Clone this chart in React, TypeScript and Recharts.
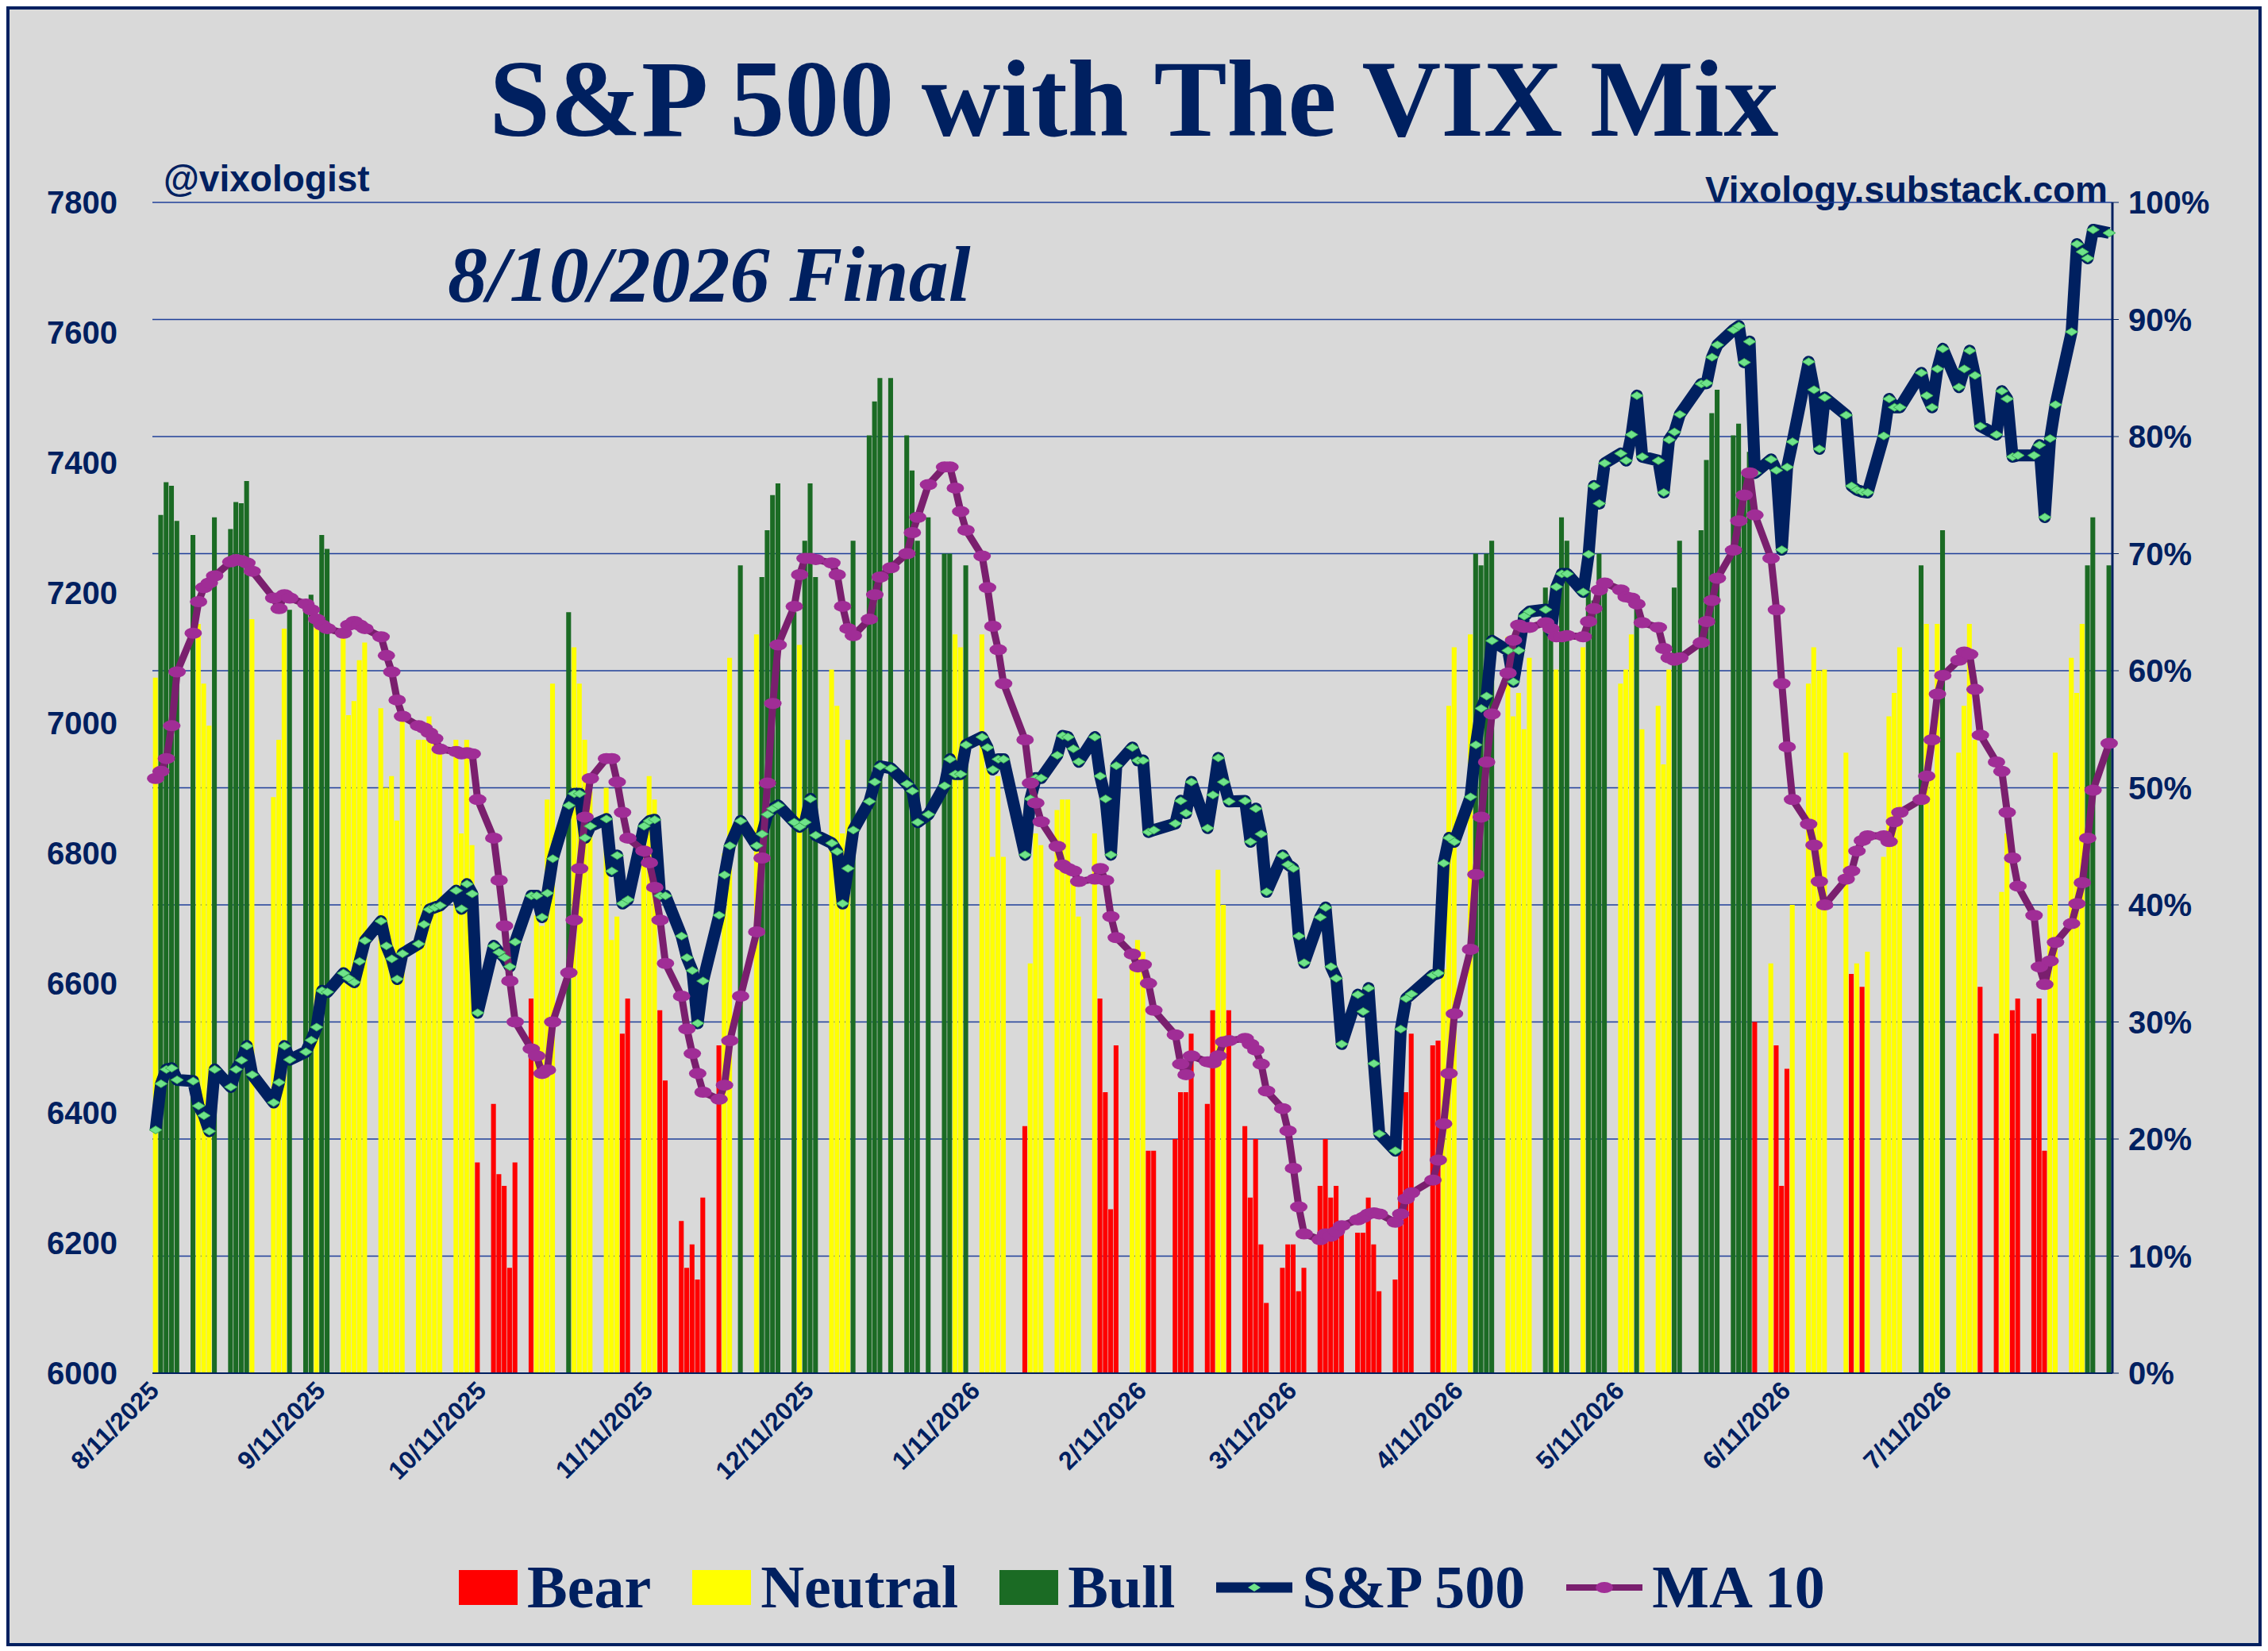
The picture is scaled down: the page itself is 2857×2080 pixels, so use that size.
import React from "react";
import {
  ComposedChart,
  Bar,
  Line,
  XAxis,
  YAxis,
  CartesianGrid,
} from "recharts";

// VIX Mix daily reading (%), one per trading day from 8/11/2025 to 8/10/2026
const vixMix = [
  59.4, 73.3, 76.1, 75.8, 72.8, 71.6, 64, 58.9, 55.3, 73.1, 72.1, 74.4, 74.3, 76.2, 64.4,
  49.2, 54.1, 63.6, 65.2, 65.7, 66.5, 63.9, 71.6, 70.4, 62.8, 56.2, 57.4, 60.9, 62.4, 56.8, 50, 51, 47.2, 56.3, 54.1, 54.1,
  56.1, 55, 53.3, 54.1, 46.1, 54.1, 45.1, 18, 23, 17, 16, 9, 18, 32, 39.1, 38.2, 49, 58.9, 65, 62, 58.9, 54.1, 49.7,
  50, 37, 39, 29, 32, 46.1, 51, 49, 31, 25, 13, 9, 11, 8, 15, 28, 44.4, 61.1, 69,
  63.1, 68, 72, 75, 76, 65, 62.2, 71.1, 76, 68, 60.1, 57, 46.1, 54.1, 71.1, 80.1, 83, 85, 85, 80.1, 77.1, 71.1,
  73.1, 70, 70, 63.1, 62, 69, 63.1, 51.7, 44.1, 51, 44.1, 21.1, 35, 46.1, 45.1, 48.1, 49, 49, 42.1, 39,
  46.1, 32, 24, 14, 28, 35, 37, 36, 19, 19, 20, 24, 24, 29, 23, 31, 43, 40, 31,
  21.1, 15, 20, 11, 6, 9, 11, 11, 7, 9, 16, 20, 15, 16, 12.1, 12, 12, 15, 11, 7, 8, 19,
  24, 29, 28, 28.4, 34.5, 57, 62, 63.1, 70, 69, 70, 71.1, 62.9, 56.1, 58.1, 55, 61.1, 67.1, 66, 60.1, 73.1,
  71.1, 62, 66.9, 66, 70, 67.5, 58.9, 60.1, 63.1, 66.2, 55, 57, 52, 60.1, 67.1, 71.1, 72, 78, 82, 84,
  80.1, 81.1, 76.8, 78.7, 30, 35, 28, 16, 26, 40, 58.9, 62, 60, 60.1, 53, 34.1, 35, 33, 36, 44.1, 56.1,
  58.1, 62, 69, 64, 51, 64, 72, 53, 57, 64, 54.1, 33, 29, 41.1, 46.1, 31, 32, 29, 32, 19, 40, 53,
  61.1, 58.1, 64, 69, 73.1, 69,
];

// regime per day: B = Bear, N = Neutral, U = Bull
const regime = [
  "NUUUUUNNNUUUUUN",
  "NNNUUUNUUNNNNNNNNNNNN",
  "NNNNNNNBBBBBBBNNNNUNNNN",
  "NNNBBNNNBBBBBBBBNNU",
  "NUUUUUNUUUNNNNUUUUUUUU",
  "UUUNNUNNNNNBNNNNNNNN",
  "NBBBBNNNBBBBBBBBNNB",
  "BBBBBBBBBBBBBBBBBBBBBB",
  "BBBBNNNNUUUUNNNNNUUNU",
  "UNUUUUNNNUNNNNUUUUUU",
  "UUUUBNBBBNNNNNNBNBNNN",
  "NNUNNNUNNNNBBNNBBBBBNN",
  "NNNUUU",
].join("");

const spx = [
  6374, 6445, 6467, 6469, 6451, 6449, 6411, 6396, 6372, 6467, 6440, 6467, 6481, 6503, 6459,
  6416, 6447, 6503, 6482, 6494, 6512, 6532, 6588, 6586, 6615, 6607, 6601, 6633, 6665, 6695, 6657, 6637, 6606, 6645, 6660, 6690,
  6713, 6716, 6719, 6742, 6714, 6752, 6737, 6554, 6657, 6647, 6639, 6625, 6663, 6734, 6734, 6701, 6738, 6791, 6873, 6891, 6891, 6823, 6841,
  6852, 6772, 6796, 6722, 6728, 6841, 6849, 6851, 6734, 6734, 6672, 6639, 6619, 6538, 6603, 6704, 6766, 6811, 6849,
  6811, 6829, 6859, 6868, 6873, 6847, 6840, 6847, 6883, 6827, 6815, 6802, 6722, 6776, 6835, 6879, 6909, 6933, 6930, 6906, 6895, 6847,
  6859, 6903, 6944, 6921, 6921, 6966, 6978, 6962, 6928, 6944, 6944, 6797, 6883, 6915, 6915, 6950, 6980, 6978, 6960, 6940,
  6978, 6918, 6883, 6797, 6934, 6962, 6942, 6942, 6832, 6835, 6845, 6880, 6861, 6909, 6838, 6889, 6946, 6909, 6879,
  6880, 6817, 6868, 6829, 6740, 6796, 6782, 6776, 6672, 6631, 6701, 6716, 6625, 6607, 6506, 6582, 6556, 6592, 6476, 6368, 6342, 6529,
  6576, 6583, 6612, 6615, 6784, 6823, 6817, 6886, 6966, 7022, 7041, 7126, 7111, 7063, 7111, 7164, 7171, 7174, 7140, 7209, 7229,
  7229, 7201, 7259, 7364, 7337, 7399, 7414, 7403, 7443, 7503, 7409, 7403, 7354, 7435, 7447, 7474, 7521, 7522, 7562, 7581,
  7604, 7610, 7554, 7586, 7384, 7405, 7388, 7266, 7393, 7432, 7555, 7512, 7421, 7500, 7473, 7364, 7358, 7355, 7354, 7441, 7498,
  7485, 7485, 7538, 7503, 7485, 7544, 7575, 7516, 7544, 7572, 7534, 7456, 7443, 7510, 7498, 7409, 7411, 7411, 7427, 7316, 7437, 7489,
  7601, 7736, 7724, 7714, 7758, 7753,
];

const ma10 = [
  50.8, 51.4, 52.5, 55.3, 59.9, 63.2, 65.9, 67.1, 67.5, 68.1, 69.3, 69.5, 69.4, 69.2, 68.5,
  66.2, 65.3, 66.5, 66.2, 65.7, 65.2, 64.4, 63.9, 63.6, 63.2, 63.9, 64.2, 63.9, 63.6, 62.9, 61.3, 59.9, 57.5, 56.1, 55.3, 55.1,
  54.7, 54.2, 53.3, 53.1, 52.9, 53.0, 52.9, 49.0, 45.7, 42.1, 38.2, 33.5, 30.0, 27.7, 27.1, 25.6, 25.9, 30.0, 34.2, 38.7, 43.1, 47.5, 50.8,
  52.5, 52.5, 50.5, 47.9, 45.7, 44.6, 43.6, 41.5, 38.7, 35.0, 32.2, 29.4, 27.3, 25.6, 24.0, 23.4, 24.6, 28.4, 32.2,
  37.7, 44.0, 50.4, 57.2, 62.2, 65.5, 68.2, 69.6, 69.6, 69.5, 69.2, 68.2, 65.5, 63.6, 63.0, 64.4, 66.5, 68.0, 68.8, 70.0, 71.8, 73.1,
  75.9, 77.4, 77.4, 75.6, 73.6, 72.0, 69.8, 67.1, 63.8, 61.8, 58.9, 54.1, 50.4, 48.7, 47.1, 45.0, 43.4, 43.1, 42.9, 42.0,
  42.2, 43.1, 42.1, 39.0, 37.2, 35.8, 34.7, 34.9, 33.3, 31.0, 28.9, 26.4, 25.5, 27.1, 26.6, 26.5, 27.1, 28.3, 28.4,
  28.6, 28.1, 27.6, 26.4, 24.1, 22.6, 20.7, 17.5, 14.2, 11.9, 11.4, 11.9, 11.7, 12.1, 12.6, 13.1, 13.3, 13.6, 13.7, 13.6, 12.9, 13.6,
  14.9, 15.4, 16.5, 18.2, 21.3, 25.6, 30.7, 36.2, 42.6, 47.5, 52.2, 56.3, 59.8, 62.6, 63.9, 63.7, 63.7, 64.1, 63.6, 62.9, 62.9,
  63.0, 62.9, 64.2, 65.3, 66.9, 67.5, 66.9, 66.3, 66.2, 65.7, 64.1, 63.7, 61.9, 61.1, 60.9, 61.1, 62.4, 64.2, 66.0, 67.9,
  70.3, 72.8, 75.0, 76.9, 73.3, 69.6, 65.2, 58.9, 53.5, 49.0, 46.9, 45.1, 42.0, 40.0, 42.2, 42.9, 44.6, 45.5, 45.9, 45.9, 45.4,
  47.1, 47.9, 49.0, 51.0, 54.1, 58.0, 59.6, 60.9, 61.6, 61.4, 58.4, 54.5, 52.2, 51.4, 47.9, 44.0, 41.6, 39.1, 34.7, 33.2, 35.2, 36.8,
  38.4, 40.1, 41.9, 45.7, 49.8, 53.8,
];

const holidays = [
  "2025-09-01", "2025-11-27", "2025-12-25", "2026-01-01", "2026-01-19",
  "2026-02-16", "2026-04-03", "2026-05-25", "2026-06-19", "2026-07-03",
];

const tickDates = [
  "2025-08-11", "2025-09-11", "2025-10-11", "2025-11-11", "2025-12-11", "2026-01-11",
  "2026-02-11", "2026-03-11", "2026-04-11", "2026-05-11", "2026-06-11", "2026-07-11",
];

const leftTicks = [6000, 6200, 6400, 6600, 6800, 7000, 7200, 7400, 7600, 7800];
const rightTicks = [0, 10, 20, 30, 40, 50, 60, 70, 80, 90, 100];

const START = Date.UTC(2025, 7, 11);
const DAY = 86400000;
const dayOf = (iso: string) => Math.round((Date.parse(iso + "T00:00:00Z") - START) / DAY);

const tradingDays: number[] = [];
for (let d = 0; d <= 364; d++) {
  const dt = new Date(START + d * DAY);
  const wd = dt.getUTCDay();
  const iso = dt.toISOString().slice(0, 10);
  if (wd === 0 || wd === 6 || holidays.includes(iso)) continue;
  tradingDays.push(d);
}

const data = tradingDays.map((day, i) => {
  const r = regime[i];
  const v = vixMix[i];
  return {
    day,
    bear: r === "B" ? v : null,
    neutral: r === "N" ? v : null,
    bull: r === "U" ? v : null,
    spx: spx[i],
    ma: ma10[i],
  };
});

const NAVY = "#002060";
const SERIF = "'Liberation Serif', 'Times New Roman', serif";
const SANS = "'Liberation Sans', Arial, sans-serif";

const fmtTick = (d: number) => {
  const dt = new Date(START + d * DAY);
  return `${dt.getUTCMonth() + 1}/${dt.getUTCDate()}/${dt.getUTCFullYear()}`;
};

const Diamond = (props: any) => {
  const { cx, cy, index } = props;
  if (cx == null || cy == null) return <g key={index} />;
  return (
    <polygon
      key={index}
      points={`${cx - 8},${cy} ${cx},${cy - 5} ${cx + 8},${cy} ${cx},${cy + 5}`}
      fill="#6fe38a"
      stroke="#3fae55"
      strokeWidth={1}
    />
  );
};

const MaDot = (props: any) => {
  const { cx, cy, index } = props;
  if (cx == null || cy == null) return <g key={index} />;
  return <ellipse key={index} cx={cx} cy={cy} rx={11} ry={7} fill="#a02d96" />;
};

const XTick = (props: any) => {
  const { x, y, payload } = props;
  return (
    <text
      x={x + 6}
      y={y + 16}
      transform={`rotate(-45 ${x + 6} ${y + 16})`}
      textAnchor="end"
      fontFamily={SANS}
      fontWeight="bold"
      fontSize={32}
      fill={NAVY}
    >
      {fmtTick(payload.value)}
    </text>
  );
};

function LegendItem({ label, children }: { label: string; children: React.ReactNode }) {
  return (
    <div style={{ display: "flex", alignItems: "center", gap: 12 }}>
      {children}
      <span style={{ fontFamily: SERIF, fontWeight: "bold", fontSize: 76, color: NAVY }}>{label}</span>
    </div>
  );
}

const box = (c: string) => <div style={{ width: 74, height: 44, background: c }} />;

export default function App() {
  return (
    <div
      style={{
        position: "relative",
        width: 2833,
        height: 2058,
        background: "#d9d9d9",
        border: `4px solid ${NAVY}`,
        overflow: "hidden",
      }}
    >
      <div
        style={{
          position: "absolute",
          top: 44,
          left: 0,
          width: "100%",
          textAlign: "center",
          fontFamily: SERIF,
          fontWeight: "bold",
          fontSize: 138,
          color: NAVY,
          lineHeight: 1,
        }}
      >
        S&amp;P 500 with The VIX Mix
      </div>
      <div style={{ position: "absolute", left: 194, top: 186, fontFamily: SANS, fontWeight: "bold", fontSize: 46, color: NAVY }}>
        @vixologist
      </div>
      <div style={{ position: "absolute", right: 190, top: 200, fontFamily: SANS, fontWeight: "bold", fontSize: 46, color: NAVY }}>
        Vixology.substack.com
      </div>
      <div
        style={{
          position: "absolute",
          left: 552,
          top: 276,
          fontFamily: SERIF,
          fontWeight: "bold",
          fontStyle: "italic",
          fontSize: 100,
          color: NAVY,
        }}
      >
        8/10/2026 Final
      </div>

      <div style={{ position: "absolute", left: 0, top: 0 }}>
        <ComposedChart
          width={2833}
          height={2058}
          data={data}
          margin={{ top: 243, right: 0, bottom: 130, left: 0 }}
          barGap={0}
        >
          <CartesianGrid yAxisId="pct" vertical={false} stroke="#1f3f99" strokeWidth={1.5} />
          <XAxis
            dataKey="day"
            type="number"
            domain={[-0.6, 364.6]}
            ticks={tickDates.map(dayOf)}
            tick={<XTick />}
            tickLine={false}
            axisLine={{ stroke: NAVY, strokeWidth: 2 }}
            height={210}
            interval={0}
          />
          <YAxis
            yAxisId="spx"
            orientation="left"
            domain={[6000, 7800]}
            ticks={leftTicks}
            width={180}
            axisLine={false}
            tickLine={false}
            tickMargin={38}
            tick={{ fontFamily: SANS, fontWeight: "bold", fontSize: 40, fill: NAVY }}
          />
          <YAxis
            yAxisId="pct"
            orientation="right"
            domain={[0, 100]}
            ticks={rightTicks}
            width={184}
            axisLine={{ stroke: NAVY, strokeWidth: 3 }}
            tickLine={{ stroke: NAVY }}
            tickSize={8}
            tickMargin={12}
            tickFormatter={(v) => `${v}%`}
            tick={{ fontFamily: SANS, fontWeight: "bold", fontSize: 40, fill: NAVY, textAnchor: "start" }}
          />
          <Bar yAxisId="pct" dataKey="bear" stackId="v" fill="#ff0000" barSize={7} isAnimationActive={false} />
          <Bar yAxisId="pct" dataKey="neutral" stackId="v" fill="#ffff00" barSize={7} isAnimationActive={false} />
          <Bar yAxisId="pct" dataKey="bull" stackId="v" fill="#1b6b24" barSize={7} isAnimationActive={false} />
          <Line
            yAxisId="spx"
            dataKey="spx"
            type="linear"
            stroke={NAVY}
            strokeWidth={15}
            strokeLinejoin="round"
            dot={Diamond}
            isAnimationActive={false}
          />
          <Line
            yAxisId="pct"
            dataKey="ma"
            type="linear"
            stroke="#7a1f6e"
            strokeWidth={9}
            strokeLinejoin="round"
            dot={MaDot}
            isAnimationActive={false}
          />
        </ComposedChart>
      </div>

      <div
        style={{
          position: "absolute",
          top: 1944,
          left: 566,
          display: "flex",
          alignItems: "center",
          gap: 52,
        }}
      >
        <LegendItem label="Bear">{box("#ff0000")}</LegendItem>
        <LegendItem label="Neutral">{box("#ffff00")}</LegendItem>
        <LegendItem label="Bull">{box("#1b6b24")}</LegendItem>
        <LegendItem label="S&P 500">
          <svg width={96} height={30}>
            <line x1={0} y1={15} x2={96} y2={15} stroke={NAVY} strokeWidth={13} />
            <polygon points="40,15 48,10 56,15 48,20" fill="#6fe38a" />
          </svg>
        </LegendItem>
        <LegendItem label="MA 10">
          <svg width={96} height={30}>
            <line x1={0} y1={15} x2={96} y2={15} stroke="#7a1f6e" strokeWidth={8} />
            <ellipse cx={48} cy={15} rx={11} ry={7} fill="#a02d96" />
          </svg>
        </LegendItem>
      </div>
    </div>
  );
}
